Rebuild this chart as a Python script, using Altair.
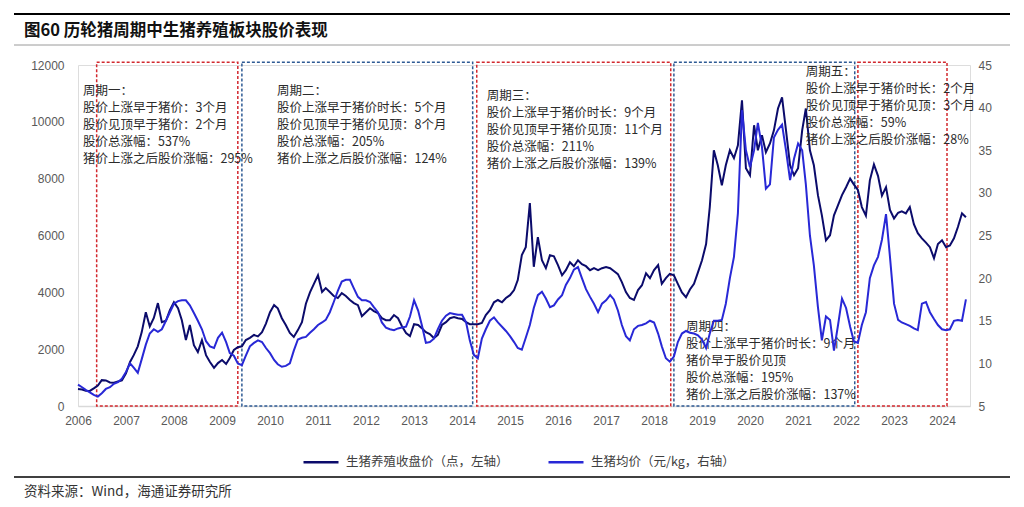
import altair as alt
import pandas as pd

# ---------------- data ----------------
# monthly points, Jan 2006 .. Jul 2024
months = pd.date_range("2006-01-01", periods=223, freq="MS").strftime("%Y-%m-%d").tolist()

stock_close = [
    # 2006
    600, 580, 540, 530, 620, 720, 910, 900, 830, 820, 860, 900,
    # 2007
    1150, 1550, 1790, 2100, 2600, 3300, 2800, 3100, 3620, 2950, 3000, 3370,
    # 2008
    3650, 3440, 3020, 2320, 2850, 2140, 1900, 2320, 1790, 1550, 1340, 1510,
    # 2009
    1620, 1480, 1690, 1970, 2070, 2100, 2320, 2400, 2500, 2450, 2600, 2900,
    # 2010
    3300, 3550, 3440, 3090, 2850, 2570, 2430, 2670, 2950, 3600, 4000, 4300,
    # 2011
    4600, 4010, 4150, 4010, 3870, 3800, 3970, 3870, 3730, 3620, 3550, 3160,
    # 2012
    3300, 3440, 3340, 3270, 3090, 3020, 3020, 3200, 3090, 2810, 2570, 2460,
    # 2013
    2880, 2850, 2740, 2600, 2530, 2390, 2500, 2850, 2950, 3090, 3130, 3090,
    # 2014
    3060, 2950, 2880, 2880, 2880, 2920, 3200, 3370, 3650, 3730, 3650, 3800,
    # 2015
    3900, 4080, 4430, 5310, 5590, 7140, 4900, 5940, 5130, 4850, 5310, 5270,
    # 2016
    4960, 4600, 4780, 5060, 4920, 5130, 4990, 4920, 4780, 4850, 4780, 4850,
    # 2017
    4890, 4850, 4750, 4640, 4360, 4010, 3800, 3730, 4080, 4250, 4670, 4500,
    # 2018
    4780, 4960, 4300, 4500, 4650, 4600, 4300, 4000, 3830, 4100, 4300, 4700,
    # 2019
    5130, 5700, 7000, 9000, 8470, 7770, 8470, 9000, 8720, 9170, 10760, 8370,
    # 2020
    8120, 9880, 9000, 9530, 8930, 9240, 9700, 10470, 10860, 9700, 8470, 8120,
    # 2021
    8370, 9700, 10470, 9000, 8470, 7420, 6710, 5830, 6010, 6710, 7070, 7420,
    # 2022
    7700, 8000, 7800, 7600, 7000, 6700, 7940, 8500, 8100, 7400, 7700, 6900,
    # 2023
    6600, 6800, 6850, 6780, 7000, 6400, 6080, 5900, 5750, 5590, 5200, 5700,
    # 2024
    5830, 5590, 5650, 5900, 6300, 6780, 6640,
]

hog_price = [
    # 2006
    7.5, 7.2, 6.9, 6.6, 6.3, 6.1, 6.5, 7.0, 7.2, 7.6, 7.8, 8.2,
    # 2007
    9.0, 10.0, 9.5, 8.9, 10.5, 12.2, 13.5, 14.0, 13.7, 14.0, 15.0, 16.0,
    # 2008
    17.0, 17.3, 17.4, 17.4, 16.8, 15.9, 15.0, 14.0, 12.6, 12.0, 11.8, 13.0,
    # 2009
    13.6, 12.5, 11.2, 10.9, 10.0, 9.8, 10.9, 12.0, 12.4, 12.7, 12.5, 11.8,
    # 2010
    11.2, 10.4, 9.9, 9.6, 9.7, 10.0, 11.5, 12.8, 13.0, 13.1, 13.6, 14.0,
    # 2011
    14.5, 14.8, 15.1, 16.0, 17.2, 18.5, 19.6, 19.8, 19.8, 18.8, 17.8, 17.4,
    # 2012
    17.4, 17.2, 16.6, 16.0, 14.8, 14.2, 14.0, 13.9, 14.1, 14.2, 14.3, 15.5,
    # 2013
    17.4, 16.2, 14.5, 12.4, 12.5, 12.9, 14.0, 15.0, 15.6, 15.9, 15.8, 15.7,
    # 2014
    15.7, 14.8, 12.7, 11.0, 10.6, 12.9, 14.0, 15.0, 15.4, 14.8, 14.3, 13.8,
    # 2015
    13.2, 12.5, 11.8, 11.6, 13.0, 14.5, 16.5, 18.0, 18.4, 17.6, 16.6, 16.8,
    # 2016
    17.5, 18.0, 19.2, 20.0, 21.0, 21.3, 20.0, 18.7, 17.8, 17.0, 16.0, 17.0,
    # 2017
    17.4, 18.0, 17.5, 16.2, 14.5, 13.2, 12.7, 14.0, 14.4, 14.5, 14.7, 15.0,
    # 2018
    14.8, 13.5, 12.0, 10.6, 10.2, 10.8, 12.5, 13.5, 13.8, 13.6, 13.5, 13.3,
    # 2019
    12.8, 11.8, 13.5, 15.0, 15.0, 15.1, 17.0, 20.0, 22.5, 27.6, 39.7, 35.0,
    # 2020
    33.0, 35.0, 38.2, 35.4, 30.5, 31.0, 36.5, 37.4, 38.0, 35.0, 31.5, 34.0,
    # 2021
    35.8, 35.0, 31.0, 25.0, 21.5, 16.6, 12.7, 15.5, 15.1, 11.5, 14.5, 17.6,
    # 2022
    16.5, 14.3, 12.6, 12.4, 14.5, 16.0, 20.0, 21.5, 22.5, 24.5, 27.5, 22.5,
    # 2023
    17.0, 15.1, 14.8, 14.6, 14.4, 14.1, 13.9, 17.0, 17.2, 16.0, 15.2, 14.5,
    # 2024
    14.0, 13.9, 14.0, 15.0, 15.1, 15.0, 17.5,
]

series_names = ["生猪养殖收盘价（点，左轴）", "生猪均价（元/kg，右轴）"]
series_colors = ["#0B0B6B", "#2828D6"]

# cycle boxes
box_start = ["2006-05-23", "2009-06-01", "2014-04-23", "2018-06-01", "2022-04-01"]
box_end = ["2009-05-01", "2014-03-23", "2018-05-08", "2022-03-08", "2024-02-08"]
box_kind = ["red", "blue", "red", "blue", "red"]
box_top = [12100, 12100, 12100, 12100, 12100]
box_bottom = [0, 0, 0, 0, 0]

# cycle notes
note_x = ["2006-02-08", "2010-02-23", "2014-07-08", "2018-09-01", "2021-03-01"]
note_y = [11300, 11300, 11125, 3005, 11970]
note_text = [
    "周期一：\n股价上涨早于猪价：3个月\n股价见顶早于猪价：2个月\n股价总涨幅：537%\n猪价上涨之后股价涨幅：295%",
    "周期二：\n股价上涨早于猪价时长：5个月\n股价见顶早于猪价见顶：8个月\n股价总涨幅：205%\n猪价上涨之后股价涨幅：124%",
    "周期三：\n股价上涨早于猪价时长：9个月\n股价见顶早于猪价见顶：11个月\n股价总涨幅：211%\n猪价上涨之后股价涨幅：139%",
    "周期四：\n股价上涨早于猪价时长：9个月\n猪价早于股价见顶\n股价总涨幅：195%\n猪价上涨之后股价涨幅：137%",
    "周期五：\n股价上涨早于猪价时长：2个月\n股价见顶早于猪价见顶：3个月\n股价总涨幅：59%\n猪价上涨之后股价涨幅：28%",
]

left_ticks = [0, 2000, 4000, 6000, 8000, 10000, 12000]
right_ticks = [5, 10, 15, 20, 25, 30, 35, 40, 45]
year_ticks = list(range(2006, 2025))

title_text = "图60 历轮猪周期中生猪养殖板块股价表现"
source_text = "资料来源：Wind，海通证券研究所"

# ---------------- tables ----------------
df = pd.DataFrame({"date": months, "stock": stock_close, "hog": hog_price})
boxes = pd.DataFrame({"start": box_start, "end": box_end, "kind": box_kind,
                      "top": box_top, "bottom": box_bottom})
notes = pd.DataFrame({"nx": note_x, "ny": note_y, "label": note_text})

AXIS_FONT = "Liberation Sans"
CJK = "Noto Sans CJK SC"

x_enc_scale = alt.Scale(
    type="utc",
    domain=[alt.DateTime(year=2006, month=1, date=1, utc=True),
            alt.DateTime(year=2024, month=8, date=1, utc=True)],
)
x_axis = alt.Axis(
    values=[alt.DateTime(year=y, month=1, date=1, utc=True) for y in year_ticks],
    format="%Y", title=None, grid=False, ticks=False,
    domainColor="#D9D9D9", domainWidth=1.5,
    labelColor="#595959", labelFontSize=12, labelFont=AXIS_FONT,
    labelPadding=9, labelAngle=0, labelFlush=False,
)
left_scale = alt.Scale(domain=[0, 12000], nice=False)
left_axis = alt.Axis(
    values=left_ticks, format="d", title=None, grid=False, ticks=False, domain=False,
    labelColor="#595959", labelFontSize=12, labelFont=AXIS_FONT, labelPadding=14,
)
right_axis = alt.Axis(
    values=right_ticks, format="d", title=None, grid=False, ticks=False, domain=False,
    orient="right", labelColor="#595959", labelFontSize=12, labelFont=AXIS_FONT,
    labelPadding=8,
)
color_scale = alt.Scale(domain=series_names, range=series_colors)
legend = alt.Legend(
    title=None, orient="none", legendX=224, legendY=378, direction="horizontal",
    symbolType="stroke", symbolStrokeWidth=2.5, symbolSize=1225,
    labelFontSize=12.5, labelFont=CJK, labelColor="#404040", labelLimit=400,
    columnPadding=34, labelOffset=6,
)

X = alt.X("date:T", scale=x_enc_scale, axis=x_axis)

box_layer = alt.Chart(boxes).mark_rect(
    fill="transparent", strokeWidth=1.5, strokeDash=[3, 2]
).encode(
    x=alt.X("start:T", scale=x_enc_scale, axis=x_axis),
    x2="end:T",
    y=alt.Y("top:Q", scale=left_scale, axis=left_axis),
    y2="bottom:Q",
    stroke=alt.Stroke("kind:N", scale=alt.Scale(domain=["red", "blue"],
                                                 range=["#D2282E", "#2E5A94"]),
                      legend=None),
)

stock_line = alt.Chart(df).transform_calculate(
    series=f"'{series_names[0]}'"
).mark_line(strokeWidth=2).encode(
    x=X,
    y=alt.Y("stock:Q", scale=left_scale, axis=left_axis),
    color=alt.Color("series:N", scale=color_scale, legend=legend),
)

note_layer = alt.Chart(notes).mark_text(
    align="left", baseline="top", lineBreak="\n", lineHeight=17,
    fontSize=12.5, font=CJK, color="#2B2B2B",
).encode(
    x=alt.X("nx:T", scale=x_enc_scale, axis=x_axis),
    y=alt.Y("ny:Q", scale=left_scale, axis=left_axis),
    text="label:N",
)

left_group = alt.layer(box_layer, stock_line, note_layer)

hog_line = alt.Chart(df).transform_calculate(
    series=f"'{series_names[1]}'"
).mark_line(strokeWidth=2).encode(
    x=X,
    y=alt.Y("hog:Q", scale=alt.Scale(domain=[5, 45], nice=False), axis=right_axis),
    color=alt.Color("series:N", scale=color_scale, legend=legend),
)

one = pd.DataFrame({"t": [title_text]})
title_layer = alt.Chart(one).mark_text(
    align="left", baseline="middle", fontSize=16.5, fontWeight="bold",
    font=CJK, color="#111111",
).encode(x=alt.value(-54), y=alt.value(-34), text="t:N")

src = pd.DataFrame({"t": [source_text]})
source_layer = alt.Chart(src).mark_text(
    align="left", baseline="middle", fontSize=13.5, font=CJK, color="#333333",
).encode(x=alt.value(-54), y=alt.value(427), text="t:N")

rule_top = alt.Chart(one).mark_rule(color="#000000", strokeWidth=2).encode(
    x=alt.value(-64), x2=alt.value(932), y=alt.value(-51))
rule_mid = alt.Chart(one).mark_rule(color="#9A9A9A", strokeWidth=1).encode(
    x=alt.value(-64), x2=alt.value(932), y=alt.value(-20))
rule_bot = alt.Chart(one).mark_rule(color="#000000", strokeWidth=1.5).encode(
    x=alt.value(-64), x2=alt.value(932), y=alt.value(412))

chart = alt.layer(
    left_group, hog_line, title_layer, source_layer, rule_top, rule_mid, rule_bot
).resolve_scale(
    y="independent"
).properties(
    width=892, height=341,
    autosize=alt.AutoSizeParams(type="none"),
    padding={"left": 70, "top": 57, "right": 46, "bottom": 93},
).configure_view(stroke=None).configure(background="white")

chart.save("out.html", embed_options={"renderer": "svg", "actions": False})
